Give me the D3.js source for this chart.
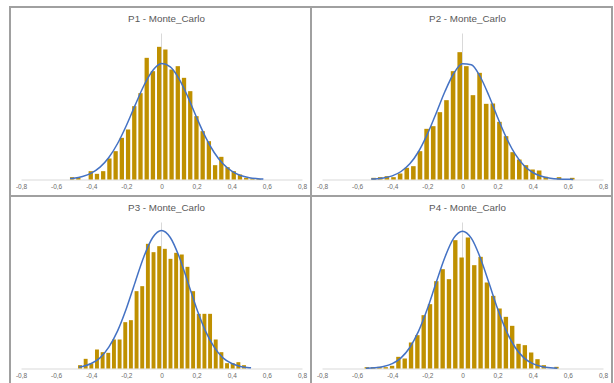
<!DOCTYPE html>
<html>
<head>
<meta charset="utf-8">
<script src="https://cdn.jsdelivr.net/npm/d3@7"></script>
<style>
  body { margin: 0; background: #fff; }
  svg { display: block; }
</style>
</head>
<body>
<div id="chart"></div>
<script>
// chart titles, one per panel
const titles = ['P1 - Monte_Carlo', 'P2 - Monte_Carlo', 'P3 - Monte_Carlo', 'P4 - Monte_Carlo'];

// x axis ticks
const tickValues = [-0.8, -0.6, -0.4, -0.2, 0, 0.2, 0.4, 0.6, 0.8];

// histogram bins: centre of the first bin and bin width for each panel
const binStarts = [-0.509, -0.506, -0.464, -0.545];
const binWidths = [0.0354, 0.0377, 0.0322, 0.036];

// histogram counts
const p1Counts = [7, 5, 0, 25, 17, 25, 63, 85, 125, 150, 220, 259, 365, 325, 398, 390,
  330, 340, 305, 265, 190, 145, 115, 43, 68, 37, 25, 15, 5, 3, 2];
const p2Counts = [5, 7, 10, 7, 18, 35, 40, 85, 152, 160, 202, 238, 325, 382, 340, 253,
  320, 227, 228, 173, 130, 82, 60, 43, 30, 27, 8, 0, 7, 0, 5];
const p3Counts = [10, 29, 15, 57, 49, 47, 87, 87, 139, 145, 232, 247, 374, 349, 367,
  359, 329, 347, 342, 305, 232, 164, 164, 164, 87, 49, 16, 16, 19, 10];
const p4Counts = [4, 4, 5, 4, 8, 35, 30, 78, 100, 160, 193, 262, 298, 268, 385, 333,
  393, 310, 335, 258, 218, 180, 155, 128, 74, 70, 48, 28, 10, 0, 5];

// fitted normal curve
const p1CurveX = [-0.52, -0.5, -0.45, -0.4, -0.35, -0.3, -0.25, -0.2, -0.15, -0.1, -0.05, 0,
  0.05, 0.1, 0.15, 0.2, 0.25, 0.3, 0.35, 0.4, 0.45, 0.5, 0.55, 0.58];
const p1CurveY = [3, 4, 9, 19, 37, 66, 108, 162, 223, 282, 327, 348,
  338, 302, 248, 186, 128, 81, 47, 25, 12, 5.5, 2.3, 1.3];
const p2CurveX = [-0.52, -0.5, -0.45, -0.4, -0.35, -0.3, -0.25, -0.2, -0.15, -0.1, -0.05, 0,
  0.05, 0.1, 0.15, 0.2, 0.25, 0.3, 0.35, 0.4, 0.45, 0.5, 0.55, 0.6, 0.63];
const p2CurveY = [1.2, 1.8, 4.7, 11, 24, 47, 84, 136, 199, 264, 318, 347,
  344, 309, 252, 186, 125, 76, 42, 21, 9.5, 3.9, 1.4, 0.5, 0.3];
const p3CurveX = [-0.47, -0.45, -0.4, -0.35, -0.3, -0.25, -0.2, -0.15, -0.1, -0.05, 0,
  0.05, 0.1, 0.15, 0.2, 0.25, 0.3, 0.35, 0.4, 0.45, 0.5, 0.51];
const p3CurveY = [4.2, 6.1, 15, 32, 64, 113, 180, 259, 336, 393, 414,
  393, 336, 259, 180, 113, 64, 32, 15, 6.1, 2.3, 1.9];
const p4CurveX = [-0.55, -0.5, -0.45, -0.4, -0.35, -0.3, -0.25, -0.2, -0.15, -0.1, -0.05, 0,
  0.05, 0.1, 0.15, 0.2, 0.25, 0.3, 0.35, 0.4, 0.45, 0.5, 0.54];
const p4CurveY = [0.8, 2.3, 6.1, 14.7, 32, 63, 112, 179, 258, 334, 391, 412,
  391, 334, 258, 179, 112, 63, 32, 14.7, 6.1, 2.3, 1.0];

const counts = [p1Counts, p2Counts, p3Counts, p4Counts];
const curvesX = [p1CurveX, p2CurveX, p3CurveX, p4CurveX];
const curvesY = [p1CurveY, p2CurveY, p3CurveY, p4CurveY];

const width = 614;
const height = 383;

// panel boxes (2 x 2 grid, the bottom row runs off the picture)
const panelW = 301;
const panelH = 189;
const panels = [
  { x: 10, y: 7 }, { x: 311, y: 7 },
  { x: 10, y: 196 }, { x: 311, y: 196 }
];

const plotTop = 26.5;
const plotBottom = 172.5;

const fmt = d => d === 0 ? '0' : d.toFixed(1).replace('.', ',');

const svg = d3.select('#chart')
  .append('svg')
  .attr('width', width)
  .attr('height', height);

panels.forEach(function (p, i) {
  const g = svg.append('g')
    .attr('transform', 'translate(' + p.x + ',' + p.y + ')');

  const x = d3.scaleLinear().domain([-0.8, 0.8]).range([11, 292]);
  const y = d3.scaleLinear().domain([0, 438]).range([plotBottom, plotTop]);

  // vertical line at zero
  g.append('line')
    .attr('x1', x(0)).attr('x2', x(0))
    .attr('y1', y(438)).attr('y2', y(0))
    .attr('stroke', '#d9d9d9')
    .attr('stroke-width', 1);

  // x axis
  const axis = g.append('g')
    .attr('transform', 'translate(0,' + plotBottom + ')')
    .call(d3.axisBottom(x)
      .tickValues(tickValues)
      .tickSize(0)
      .tickPadding(5)
      .tickFormat(fmt));
  axis.select('.domain').attr('stroke', '#d9d9d9');
  axis.selectAll('text')
    .attr('fill', '#6b6b6b')
    .attr('font-family', 'Liberation Sans, sans-serif')
    .attr('font-size', 6.5);

  // histogram bars
  const bw = binWidths[i];
  const barW = (x(bw) - x(0)) * 0.69;
  g.selectAll('.bar')
    .data(counts[i])
    .enter()
    .append('rect')
    .attr('class', 'bar')
    .attr('x', function (d, j) { return x(binStarts[i] + j * bw) - barW / 2; })
    .attr('y', function (d) { return y(d); })
    .attr('width', barW)
    .attr('height', function (d) { return y(0) - y(d); })
    .attr('fill', '#bf9000');

  // normal curve
  const pts = curvesX[i].map(function (v, j) { return [v, curvesY[i][j]]; });
  const line = d3.line()
    .x(function (d) { return x(d[0]); })
    .y(function (d) { return y(d[1]); })
    .curve(d3.curveMonotoneX);
  g.append('path')
    .datum(pts)
    .attr('d', line)
    .attr('fill', 'none')
    .attr('stroke', '#4472c4')
    .attr('stroke-width', 1.5);

  // title
  g.append('text')
    .attr('x', panelW / 2 + 6)
    .attr('y', 12)
    .attr('dy', '0.35em')
    .attr('text-anchor', 'middle')
    .attr('font-family', 'Liberation Sans, sans-serif')
    .attr('font-size', 9.8)
    .attr('fill', '#595959')
    .text(titles[i]);

  // panel border
  g.append('rect')
    .attr('x', 0).attr('y', 0)
    .attr('width', panelW).attr('height', panelH)
    .attr('fill', 'none')
    .attr('stroke', '#a0a0a0')
    .attr('stroke-width', 2);
});
</script>
</body>
</html>
